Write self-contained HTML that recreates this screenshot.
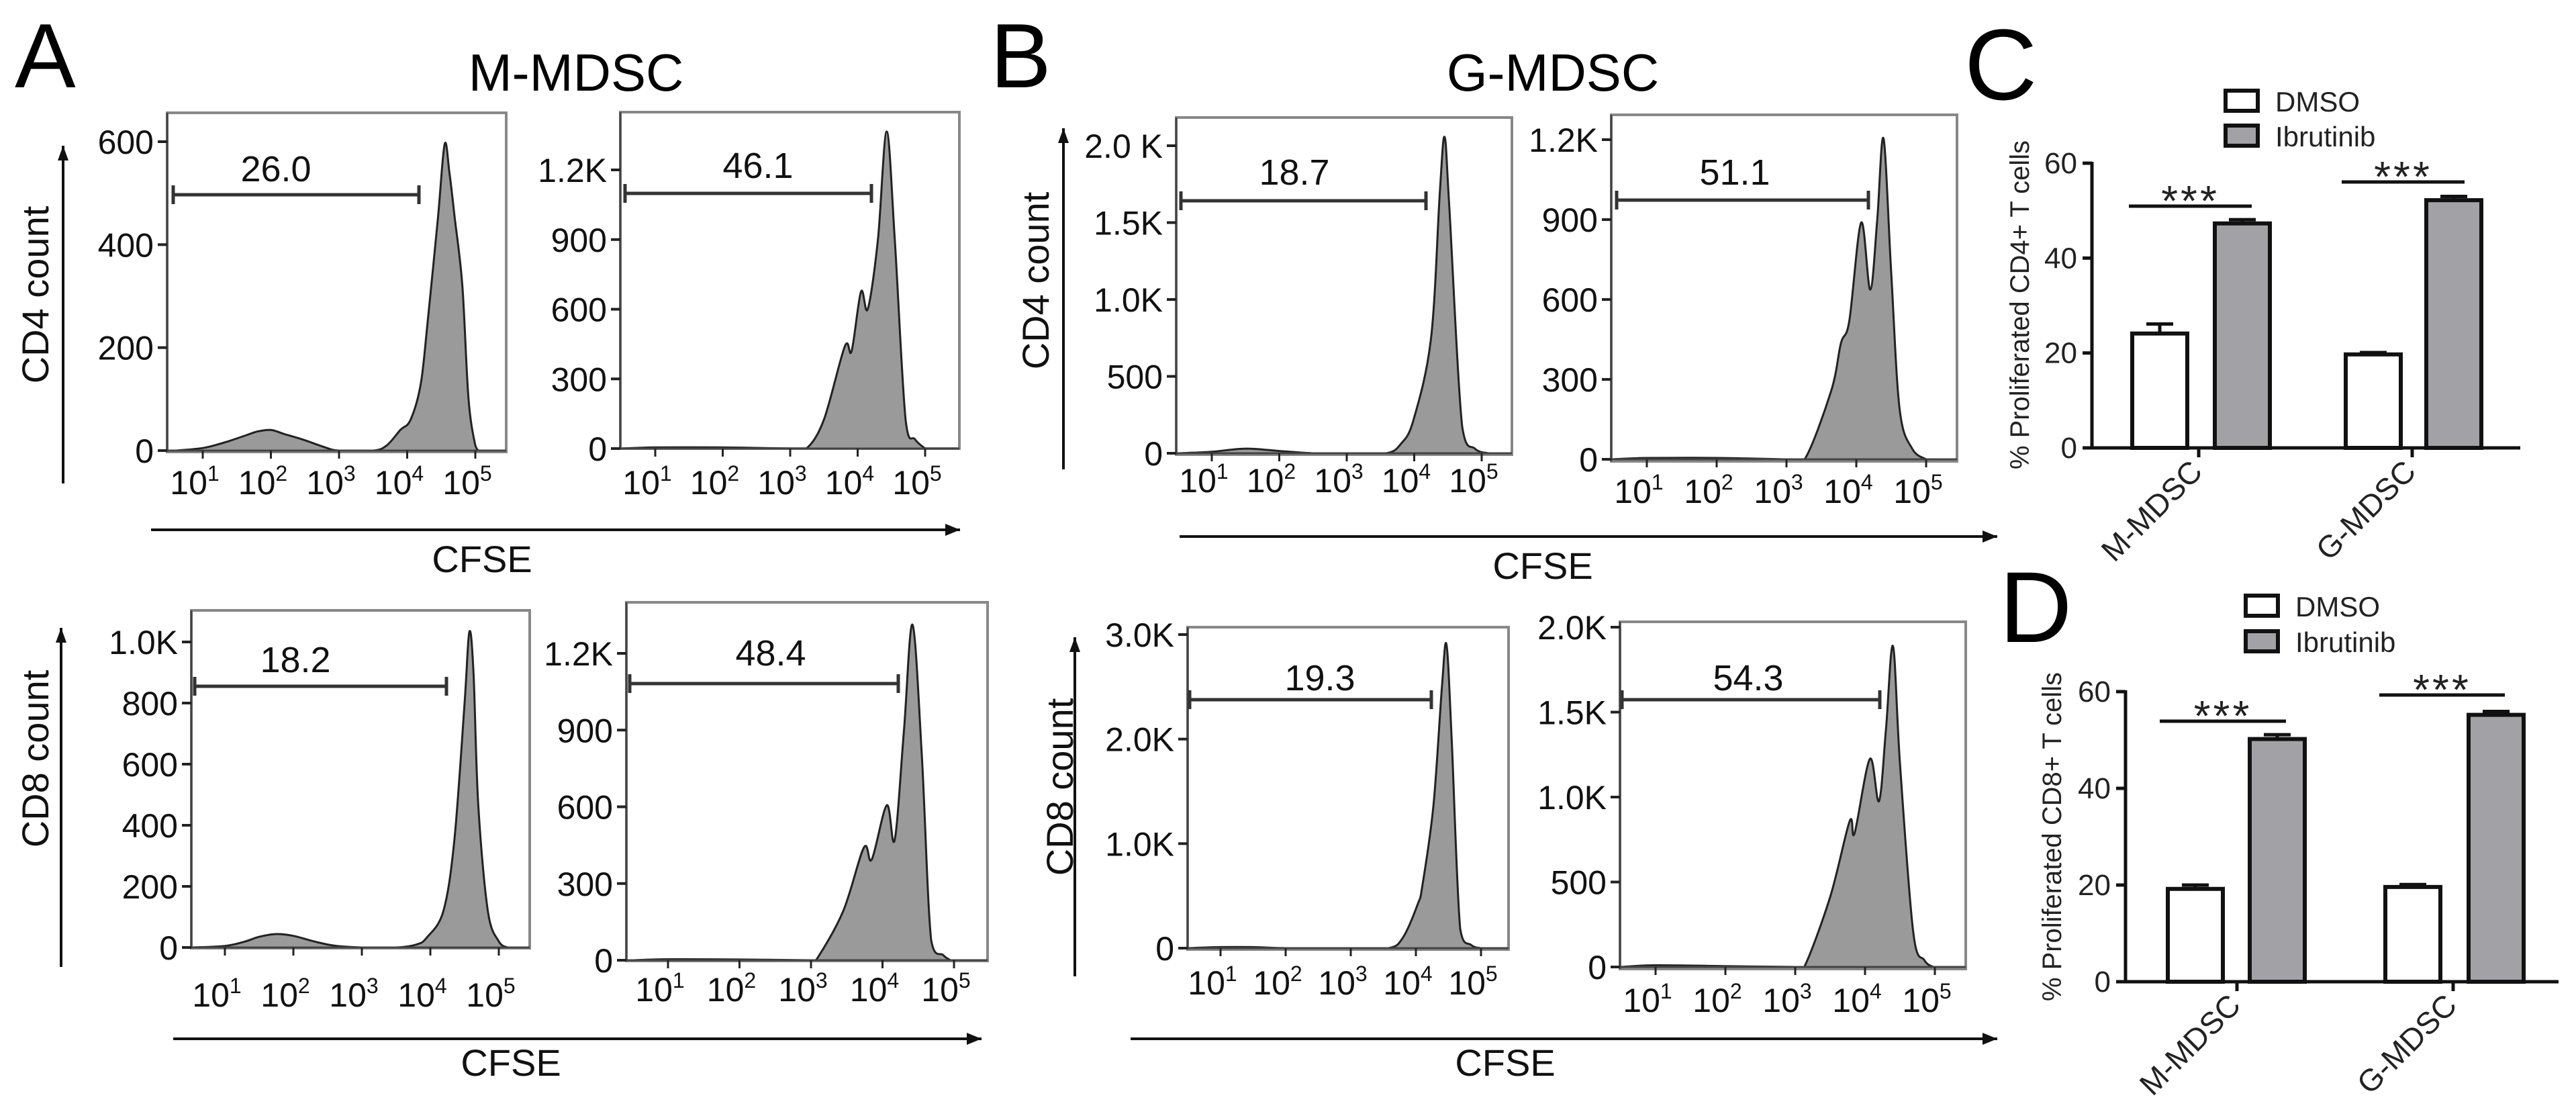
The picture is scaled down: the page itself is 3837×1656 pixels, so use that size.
<!DOCTYPE html>
<html><head><meta charset="utf-8"><style>
html,body{margin:0;padding:0;background:#fff;}
svg{display:block;font-family:"Liberation Sans",Arial,sans-serif;}
</style></head><body>
<svg id="fig" xmlns="http://www.w3.org/2000/svg" width="3837" height="1656" viewBox="0 0 3837 1656">
<rect width="3837" height="1656" fill="#fff"/>
<text x="22" y="130" font-size="136">A</text>
<text x="1475" y="130" font-size="136">B</text>
<text x="2926" y="148" font-size="150">C</text>
<text x="2978" y="956" font-size="150">D</text>
<text x="858" y="135" font-size="78" text-anchor="middle">M-MDSC</text>
<text x="2313" y="135" font-size="78" text-anchor="middle">G-MDSC</text>
<g id="hists"></g>
<g id="bars"></g>
</svg>
<script>
// ---------- histogram data (log10 CFSE, count) ----------
const a1X=[0.6,1.0,1.3,1.6,1.8,2.0,2.2,2.5,2.8,3.0,3.5,3.7,3.9,4.05,4.2,4.3,4.45,4.55,4.62,4.7,4.81,4.9,5.0,5.05];
const a1Y=[0,5,15,28,37,40,32,20,6,0,0,10,40,60,130,250,450,595,540,450,320,100,10,0];
const a2X=[0.5,1.0,2.0,3.0,3.24,3.5,3.81,3.91,4.05,4.15,4.3,4.43,4.55,4.71,4.85,5.0];
const a2Y=[0,5,5,0,0,125,440,420,676,601,900,1365,900,125,40,0];
const a3X=[0.5,1.0,1.3,1.5,1.75,2.0,2.3,2.6,3.0,3.5,3.8,3.95,4.19,4.35,4.5,4.57,4.63,4.7,4.84,5.0,5.13];
const a3Y=[0,5,20,35,44,38,20,6,0,0,10,33,119,350,800,1033,900,466,119,20,0];
const a4X=[0.5,1.0,2.0,3.0,3.07,3.45,3.74,3.85,4.06,4.17,4.3,4.42,4.55,4.68,4.85,4.95];
const a4Y=[0,4,3,0,0,192,441,394,606,470,900,1312,800,81,20,0];
const b1X=[0.5,1.0,1.5,2.0,2.5,3.0,3.58,3.8,3.99,4.25,4.38,4.45,4.52,4.71,4.9,5.1];
const b1Y=[0,10,30,15,0,0,0,60,218,751,1700,2057,1600,175,30,0];
const b2X=[0.5,1.0,2.0,3.0,3.26,3.64,3.78,3.9,4.07,4.2,4.3,4.39,4.5,4.62,4.8,5.0];
const b2Y=[0,5,5,0,0,257,436,520,889,637,900,1204,700,189,40,0];
const b3X=[0.5,1.0,1.5,2.0,3.0,3.58,3.8,4.03,4.1,4.27,4.4,4.47,4.55,4.68,4.85,5.0];
const b3Y=[0,10,10,0,0,0,100,424,600,1368,2500,2903,2000,186,30,0];
const b4X=[0.5,1.0,2.0,3.0,3.13,3.5,3.78,3.85,4.07,4.2,4.3,4.4,4.5,4.69,4.85,4.98];
const b4Y=[0,10,5,0,0,411,858,787,1225,976,1400,1889,1200,206,40,0];
const a1Ticks=[0,200,400,600], a1TickLabels=["0","200","400","600"];
const a2Ticks=[0,300,600,900,1200], a2TickLabels=["0","300","600","900","1.2K"];
const a3Ticks=[0,200,400,600,800,1000], a3TickLabels=["0","200","400","600","800","1.0K"];
const a4Ticks=[0,300,600,900,1200], a4TickLabels=["0","300","600","900","1.2K"];
const b1Ticks=[0,500,1000,1500,2000], b1TickLabels=["0","500","1.0K","1.5K","2.0 K"];
const b2Ticks=[0,300,600,900,1200], b2TickLabels=["0","300","600","900","1.2K"];
const b3Ticks=[0,1000,2000,3000], b3TickLabels=["0","1.0K","2.0K","3.0K"];
const b4Ticks=[0,500,1000,1500,2000], b4TickLabels=["0","500","1.0K","1.5K","2.0K"];
const gateLabels=["26.0","46.1","18.2","48.4","18.7","51.1","19.3","54.3"];
const decades=[1,2,3,4,5];

// ---------- bar data ----------
const categories=["M-MDSC","G-MDSC"];
const seriesNames=["DMSO","Ibrutinib"];
const cd4Dmso=[24.1,19.7], cd4DmsoErr=[2.0,0.4];
const cd4Ibru=[47.3,52.2], cd4IbruErr=[0.8,0.8];
const cd8Dmso=[19.2,19.6], cd8DmsoErr=[0.8,0.5];
const cd8Ibru=[50.2,55.2], cd8IbruErr=[0.9,0.7];
const barTicks=[0,20,40,60];

const NS="http://www.w3.org/2000/svg";
function mk(tag,attrs,parent,text){const e=document.createElementNS(NS,tag);for(const k in attrs)e.setAttribute(k,attrs[k]);if(text!==undefined)e.textContent=text;parent.appendChild(e);return e;}

const plots=[
 {id:"a1",f:[249,168,754,673],x10:302,dec:101.5,y0:671,topV:600,topY:211,xs:a1X,ys:a1Y,t:a1Ticks,tl:a1TickLabels,g:[258,624,290],gl:[411,270],lab:0,xlY:736},
 {id:"a2",f:[924,167,1429,668],x10:976,dec:100.5,y0:668,topV:1200,topY:253,xs:a2X,ys:a2Y,t:a2Ticks,tl:a2TickLabels,g:[931,1298,288],gl:[1129,265],lab:1,xlY:736},
 {id:"a3",f:[285,909,789,1412],x10:335,dec:102,y0:1411,topV:1000,topY:956,xs:a3X,ys:a3Y,t:a3Ticks,tl:a3TickLabels,g:[290,665,1022],gl:[440,1001],lab:2,xlY:1499},
 {id:"a4",f:[933,897,1471,1431],x10:995,dec:106.5,y0:1430,topV:1200,topY:973,xs:a4X,ys:a4Y,t:a4Ticks,tl:a4TickLabels,g:[938,1338,1018],gl:[1148,991],lab:3,xlY:1491},
 {id:"b1",f:[1752,175,2252,677],x10:1805,dec:100.5,y0:675,topV:2000,topY:217,xs:b1X,ys:b1Y,t:b1Ticks,tl:b1TickLabels,g:[1759,2124,299],gl:[1928,275],lab:4,xlY:733},
 {id:"b2",f:[2400,171,2915,687],x10:2453,dec:104,y0:684,topV:1200,topY:208,xs:b2X,ys:b2Y,t:b2Ticks,tl:b2TickLabels,g:[2408,2783,298],gl:[2584,275],lab:5,xlY:749},
 {id:"b3",f:[1769,934,2247,1414],x10:1818,dec:97,y0:1412,topV:3000,topY:945,xs:b3X,ys:b3Y,t:b3Ticks,tl:b3TickLabels,g:[1772,2132,1042],gl:[1966,1028],lab:6,xlY:1481},
 {id:"b4",f:[2413,926,2928,1443],x10:2466,dec:104,y0:1440,topV:2000,topY:934,xs:b4X,ys:b4Y,t:b4Ticks,tl:b4TickLabels,g:[2416,2800,1042],gl:[2604,1028],lab:7,xlY:1507}
];
const H=document.getElementById("hists");
plots.forEach(p=>{
  const g=mk("g",{},H);
  
  
  const sx=v=>p.x10+(v-1)*p.dec;
  const sy=v=>p.y0-v*(p.y0-p.topY)/p.topV;
  const fr=mk("rect",{x:p.f[0],y:p.f[1],width:p.f[2]-p.f[0],height:p.f[3]-p.f[1],fill:"none",stroke:"#888","stroke-width":4},g);
  
  
  const pts=p.xs.map((v,i)=>[sx(v),sy(p.ys[i])]);
  let d="M"+pts[0][0].toFixed(1)+","+pts[0][1].toFixed(1);
  for(let i=0;i<pts.length-1;i++){
    const p0=pts[Math.max(0,i-1)],p1=pts[i],p2=pts[i+1],p3=pts[Math.min(pts.length-1,i+2)];
    const c1x=p1[0]+(p2[0]-p0[0])/6, c1y=Math.min(p.y0,p1[1]+(p2[1]-p0[1])/6);
    const c2x=p2[0]-(p3[0]-p1[0])/6, c2y=Math.min(p.y0,p2[1]-(p3[1]-p1[1])/6);
    d+=` C${c1x.toFixed(1)},${c1y.toFixed(1)} ${c2x.toFixed(1)},${c2y.toFixed(1)} ${p2[0].toFixed(1)},${p2[1].toFixed(1)}`;
  }
  d+="Z";
  const hp=mk("path",{d:d,fill:"#9a9a9a",stroke:"#222","stroke-width":3,"stroke-linejoin":"round"},g);
  
  
  mk("line",{x1:p.f[0],x2:p.f[2],y1:p.y0,y2:p.y0,stroke:"#444","stroke-width":3},g);
  mk("line",{x1:p.f[0],x2:p.f[0],y1:p.f[1],y2:p.f[3],stroke:"#444","stroke-width":3},g);
  p.t.forEach((v,i)=>{
    mk("line",{x1:p.f[0]-14,x2:p.f[0],y1:sy(v),y2:sy(v),stroke:"#222","stroke-width":4},g);
    const t=mk("text",{x:p.f[0]-20,y:sy(v)+18,"font-size":50,"text-anchor":"end",fill:"#111"},g,p.tl[i]);
    
    
  });
  decades.forEach(k=>{
    const x=sx(k);
    mk("line",{x1:x,x2:x,y1:p.y0,y2:p.y0+12,stroke:"#222","stroke-width":3},g);
    const t=mk("text",{x:x-12,y:p.xlY,"font-size":50,"text-anchor":"middle",fill:"#111"},g);
    
    
    mk("tspan",{},t,"10");
    mk("tspan",{dy:-20,"font-size":32},t,String(k));
  });
  const gg=mk("g",{stroke:"#333","stroke-width":5},g);
  
  
  mk("line",{x1:p.g[0],x2:p.g[1],y1:p.g[2],y2:p.g[2]},gg);
  mk("line",{x1:p.g[0],x2:p.g[0],y1:p.g[2]-14,y2:p.g[2]+14},gg);
  mk("line",{x1:p.g[1],x2:p.g[1],y1:p.g[2]-14,y2:p.g[2]+14},gg);
  const gl=mk("text",{x:p.gl[0],y:p.gl[1],"font-size":54,"text-anchor":"middle",fill:"#111"},g,gateLabels[p.lab]);
  
  
});
function arrow(x1,y1,x2,y2,name){
  const g=mk("g",{},H);
  
  
  mk("line",{x1:x1,y1:y1,x2:x2,y2:y2,stroke:"#111","stroke-width":4},g);
  if(y1===y2){mk("polygon",{points:`${x2},${y2} ${x2-22},${y2-9} ${x2-22},${y2+9}`,fill:"#111"},g);}
  else{mk("polygon",{points:`${x2},${y2} ${x2-8},${y2+22} ${x2+8},${y2+22}`,fill:"#111"},g);}
}
arrow(94,720,94,217,"y-arrow-a-cd4");
arrow(91,1440,91,935,"y-arrow-a-cd8");
arrow(1584,699,1584,191,"y-arrow-b-cd4");
arrow(1601,1454,1601,949,"y-arrow-b-cd8");
arrow(225,789,1430,789,"x-arrow-a-top");
arrow(258,1547,1462,1547,"x-arrow-a-bottom");
arrow(1757,799,2975,799,"x-arrow-b-top");
arrow(1684,1547,2975,1547,"x-arrow-b-bottom");
function label(x,y,txt,rot,name,size){
  const t=mk("text",{x:x,y:y,"font-size":size||56,"text-anchor":"middle",fill:"#111",transform:rot?`rotate(-90 ${x} ${y})`:""},H,txt);
  
  
}
label(718,852,"CFSE",false,"x-axis-title-a-top");
label(761,1602,"CFSE",false,"x-axis-title-a-bottom");
label(2298,862,"CFSE",false,"x-axis-title-b-top");
label(2242,1602,"CFSE",false,"x-axis-title-b-bottom");
label(72,439,"CD4 count",true,"y-axis-title-a-cd4");
label(72,1130,"CD8 count",true,"y-axis-title-a-cd8");
label(1562,418,"CD4 count",true,"y-axis-title-b-cd4");
label(1598,1172,"CD8 count",true,"y-axis-title-b-cd8");

const B=document.getElementById("bars");
const charts=[
 {id:"c",ax:3116,y0:667,y60:243,xEnd:3754,dm:cd4Dmso,dmE:cd4DmsoErr,ib:cd4Ibru,ibE:cd4IbruErr,
  slots:[[3176,3299],[3494,3614]],bw:82,ticks:[3275,3593],sig:[[3171,3354,307],[3488,3671,271]],
  leg:[3315,135,187],ylab:[3022,454,"% Proliferated CD4+ T cells"]},
 {id:"d",ax:3166,y0:1462,y60:1030,xEnd:3811,dm:cd8Dmso,dmE:cd8DmsoErr,ib:cd8Ibru,ibE:cd8IbruErr,
  slots:[[3229,3351],[3553,3677]],bw:82,ticks:[3332,3654],sig:[[3217,3405,1074],[3544,3731,1035]],
  leg:[3345,887,940],ylab:[3070,1246,"% Proliferated CD8+ T cells"]}
];
charts.forEach(c=>{
  const g=mk("g",{},B);
  
  
  const sy=v=>c.y0-v*(c.y0-c.y60)/60;
  mk("line",{x1:c.ax,x2:c.ax,y1:sy(60)-2,y2:c.y0,stroke:"#111","stroke-width":5},g);
  mk("line",{x1:c.ax-2,x2:c.xEnd,y1:c.y0,y2:c.y0,stroke:"#111","stroke-width":5},g);
  barTicks.forEach(v=>{
    mk("line",{x1:c.ax-14,x2:c.ax,y1:sy(v),y2:sy(v),stroke:"#111","stroke-width":5},g);
    const t=mk("text",{x:c.ax-22,y:sy(v)+15,"font-size":44,"text-anchor":"end",fill:"#222"},g,String(v));
    
    
  });
  categories.forEach((cat,i)=>{
    const tx=c.ticks[i];
    mk("line",{x1:tx,x2:tx,y1:c.y0,y2:c.y0+14,stroke:"#111","stroke-width":5},g);
    const t=mk("text",{x:tx+8,y:c.y0+38,"font-size":46,"text-anchor":"end",fill:"#222",transform:`rotate(-45 ${tx+8} ${c.y0+38})`},g,cat);
    
    
    [[c.dm,c.dmE,"#fff",0],[c.ib,c.ibE,"#a2a2a6",1]].forEach(s=>{
      const x=c.slots[i][s[3]], v=s[0][i], e=s[1][i];
      const cx=x+c.bw/2;
      mk("line",{x1:cx,x2:cx,y1:sy(v),y2:sy(v+e),stroke:"#111","stroke-width":5},g);
      mk("line",{x1:cx-20,x2:cx+20,y1:sy(v+e),y2:sy(v+e),stroke:"#111","stroke-width":5},g);
      const r=mk("rect",{x:x,y:sy(v),width:c.bw,height:c.y0-sy(v),fill:s[2],stroke:"#111","stroke-width":6},g);
      
      
    });
    const sg=c.sig[i];
    const sl=mk("line",{x1:sg[0],x2:sg[1],y1:sg[2],y2:sg[2],stroke:"#111","stroke-width":5},g);
    
    
    const st=mk("text",{x:(sg[0]+sg[1])/2,y:sg[2]+14,"font-size":64,"text-anchor":"middle",fill:"#222","letter-spacing":4},g,"***");
    
    
  });
  seriesNames.forEach((n,i)=>{
    const y=c.leg[1+i];
    const lg=mk("g",{},g);
    
    
    mk("rect",{x:c.leg[0],y:y,width:48,height:30,fill:i?"#a2a2a6":"#fff",stroke:"#111","stroke-width":6},lg);
    mk("text",{x:c.leg[0]+74,y:y+31,"font-size":42,fill:"#222"},lg,n);
  });
  const yl=mk("text",{x:c.ylab[0],y:c.ylab[1],"font-size":40,"text-anchor":"middle",fill:"#222",textLength:490,lengthAdjust:"spacingAndGlyphs",transform:`rotate(-90 ${c.ylab[0]} ${c.ylab[1]})`},g,c.ylab[2]);
  
  
});
</script>
</body></html>
